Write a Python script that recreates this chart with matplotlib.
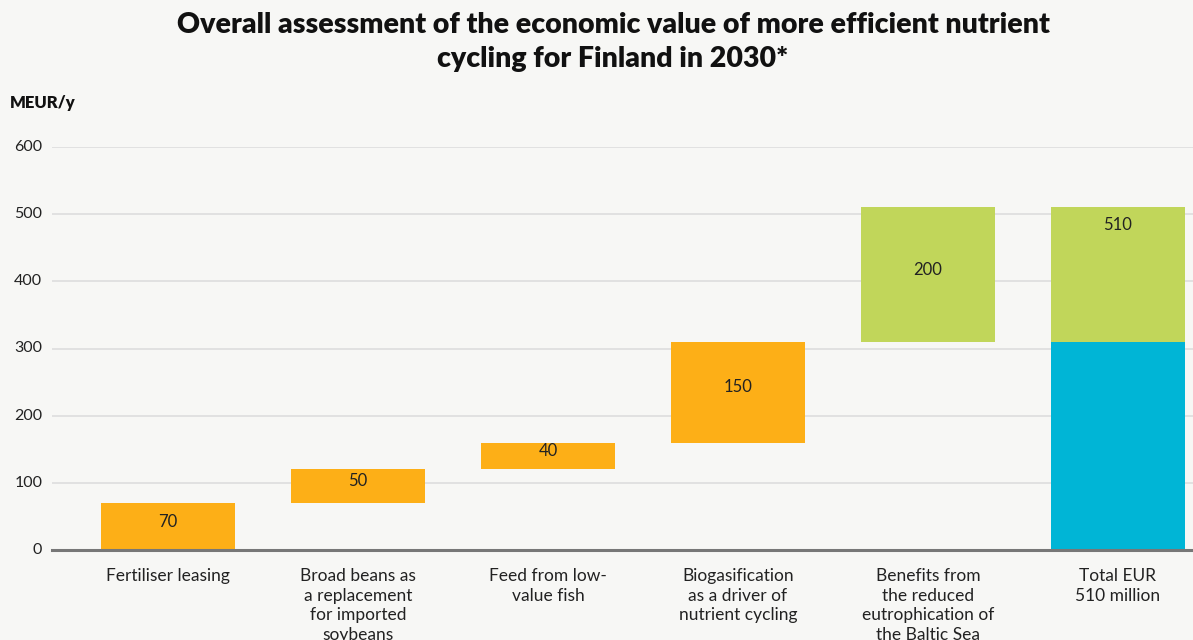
import matplotlib.pyplot as plt

plt.rcParams['font.family'] = ['Lato', 'DejaVu Sans']

# data
categories = ["Fertiliser leasing",
              "Broad beans as\na replacement\nfor imported\nsoybeans",
              "Feed from low-\nvalue fish",
              "Biogasification\nas a driver of\nnutrient cycling",
              "Benefits from\nthe reduced\neutrophication of\nthe Baltic Sea",
              "Total EUR\n510 million"]
steps = [70, 50, 40, 150, 200]
step_colors = ["#fdaf17", "#fdaf17", "#fdaf17", "#fdaf17", "#c1d65a"]
total_parts = [310, 200]
total_colors = ["#00b5d6", "#c1d65a"]
total_value = 510
yticks = [0, 100, 200, 300, 400, 500, 600]

bg = "#f7f7f5"
fig = plt.figure(figsize=(11.93, 6.4), dpi=100, facecolor=bg)
ax = fig.add_axes([52 / 1193, 1 - 550 / 640, 1 - 52 / 1193, (550 - 147) / 640])
ax.set_facecolor(bg)

width = 0.705
bottom = 0
for i, (v, c) in enumerate(zip(steps, step_colors)):
    ax.bar(i, v, bottom=bottom, width=width, color=c, zorder=3)
    ax.text(i, bottom + v / 2 + 7, str(v), ha="center", va="center",
            fontsize=12, color="#222222", zorder=4)
    bottom += v

ti = len(steps)
b = 0
for v, c in zip(total_parts, total_colors):
    ax.bar(ti, v, bottom=b, width=width, color=c, zorder=3)
    b += v
ax.text(ti, total_value - 26, str(total_value), ha="center", va="center",
        fontsize=12, color="#222222", zorder=4)

ax.set_xlim(-0.61, 5.395)
ax.set_ylim(0, 600)
ax.set_yticks(yticks)
ax.set_yticklabels([str(t) for t in yticks], fontsize=11.5, color="#222222")
ax.tick_params(axis="y", length=0, pad=7)
for lbl in ax.get_yticklabels():
    lbl.set_verticalalignment("center")
ax.set_xticks(range(len(categories)))
ax.set_xticklabels(categories, fontsize=12.5, color="#222222", linespacing=1.27)
ax.tick_params(axis="x", length=0, pad=13)

ax.grid(axis="y", color="#dddddd", linewidth=1.2, zorder=0)
for s in ["top", "right", "left"]:
    ax.spines[s].set_visible(False)
ax.spines["bottom"].set_color("#777777")
ax.spines["bottom"].set_linewidth(2.2)
ax.spines["bottom"].set_zorder(5)
ax.yaxis.get_gridlines()[0].set_visible(False)

fig.text(613 / 1193, 1 - 42 / 640,
         "Overall assessment of the economic value of more efficient nutrient\ncycling for Finland in 2030*",
         ha="center", va="center", fontsize=20.5, fontweight="heavy", color="#111111",
         linespacing=1.35)
fig.text(10 / 1193, 1 - 103 / 640, "MEUR/y", ha="left", va="center",
         fontsize=12, fontweight="heavy", color="#111111")

fig.savefig("out.png", dpi=100, facecolor=bg)
